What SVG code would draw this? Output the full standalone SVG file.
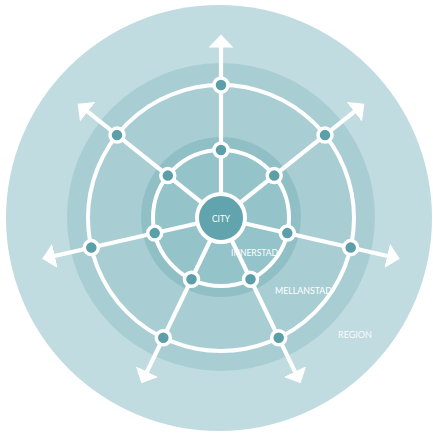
<svg xmlns="http://www.w3.org/2000/svg" width="433" height="434" viewBox="0 0 433 434">
<style>
.ring{fill:none;stroke:#ffffff;stroke-width:4}
.spoke{stroke:#ffffff;stroke-width:4.2;fill:none}
.node{fill:#5c9fa8;stroke:#ffffff;stroke-width:3.5}
.lbl{font-family:Lato,"Liberation Sans",sans-serif;font-size:9px;fill:#ffffff}
</style>
<defs>
<marker id="arrow" markerUnits="userSpaceOnUse" markerWidth="14" markerHeight="26" viewBox="0 -12 13 24" refX="0.5" refY="0" orient="auto">
<path d="M0,-11.5 L12,0 L0,11.5 Z" fill="#ffffff"/>
</marker>
</defs>
<rect width="433" height="434" fill="#ffffff"/>
<g id="zones">
<circle id="region" cx="219" cy="218" r="213" fill="#c1dce0"/>
<circle id="mellanstad" cx="221" cy="217" r="154" fill="#a8ced3"/>
<circle id="innerstad" cx="221" cy="217" r="80" fill="#90bfc6"/>
<circle cx="221" cy="218" r="68" fill="#94c3c9"/>
</g>
<g id="connectors">
<circle class="ring" cx="221" cy="218" r="68"/>
<circle class="ring" cx="221" cy="218" r="133"/>
<line class="spoke" x1="221" y1="218" x2="221" y2="47" marker-end="url(#arrow)"/>
<line class="spoke" x1="221" y1="218" x2="354.7" y2="111.4" marker-end="url(#arrow)"/>
<line class="spoke" x1="221" y1="218" x2="387.7" y2="256.0" marker-end="url(#arrow)"/>
<line class="spoke" x1="221" y1="218" x2="295.2" y2="372.1" marker-end="url(#arrow)"/>
<line class="spoke" x1="221" y1="218" x2="146.8" y2="372.1" marker-end="url(#arrow)"/>
<line class="spoke" x1="221" y1="218" x2="54.3" y2="256.0" marker-end="url(#arrow)"/>
<line class="spoke" x1="221" y1="218" x2="87.3" y2="111.4" marker-end="url(#arrow)"/>
</g>
<g id="city">
<circle cx="221" cy="218" r="24" fill="#62a4ad" stroke="#ffffff" stroke-width="4"/>
<text class="lbl" x="221" y="221.5" text-anchor="middle" textLength="18" lengthAdjust="spacingAndGlyphs">CITY</text>
</g>
<g id="inner-nodes">
<circle class="node" cx="221" cy="150" r="7"/>
<circle class="node" cx="274.2" cy="175.6" r="7"/>
<circle class="node" cx="287.3" cy="233.1" r="7"/>
<circle class="node" cx="250.5" cy="279.3" r="7"/>
<circle class="node" cx="191.5" cy="279.3" r="7"/>
<circle class="node" cx="154.7" cy="233.1" r="7"/>
<circle class="node" cx="167.8" cy="175.6" r="7"/>
</g>
<g id="outer-nodes">
<circle class="node" cx="221" cy="85" r="7"/>
<circle class="node" cx="325" cy="135.1" r="7"/>
<circle class="node" cx="350.7" cy="247.6" r="7"/>
<circle class="node" cx="278.7" cy="337.8" r="7"/>
<circle class="node" cx="163.3" cy="337.8" r="7"/>
<circle class="node" cx="91.3" cy="247.6" r="7"/>
<circle class="node" cx="117" cy="135.1" r="7"/>
</g>
<g id="labels">
<text id="lbl-innerstad" class="lbl" x="231" y="256" textLength="47" lengthAdjust="spacingAndGlyphs">INNERSTAD</text>
<text id="lbl-mellanstad" class="lbl" x="275" y="294" textLength="57" lengthAdjust="spacingAndGlyphs">MELLANSTAD</text>
<text id="lbl-region" class="lbl" x="338" y="338" textLength="34" lengthAdjust="spacingAndGlyphs" fill-opacity="0.9">REGION</text>
</g>
</svg>
